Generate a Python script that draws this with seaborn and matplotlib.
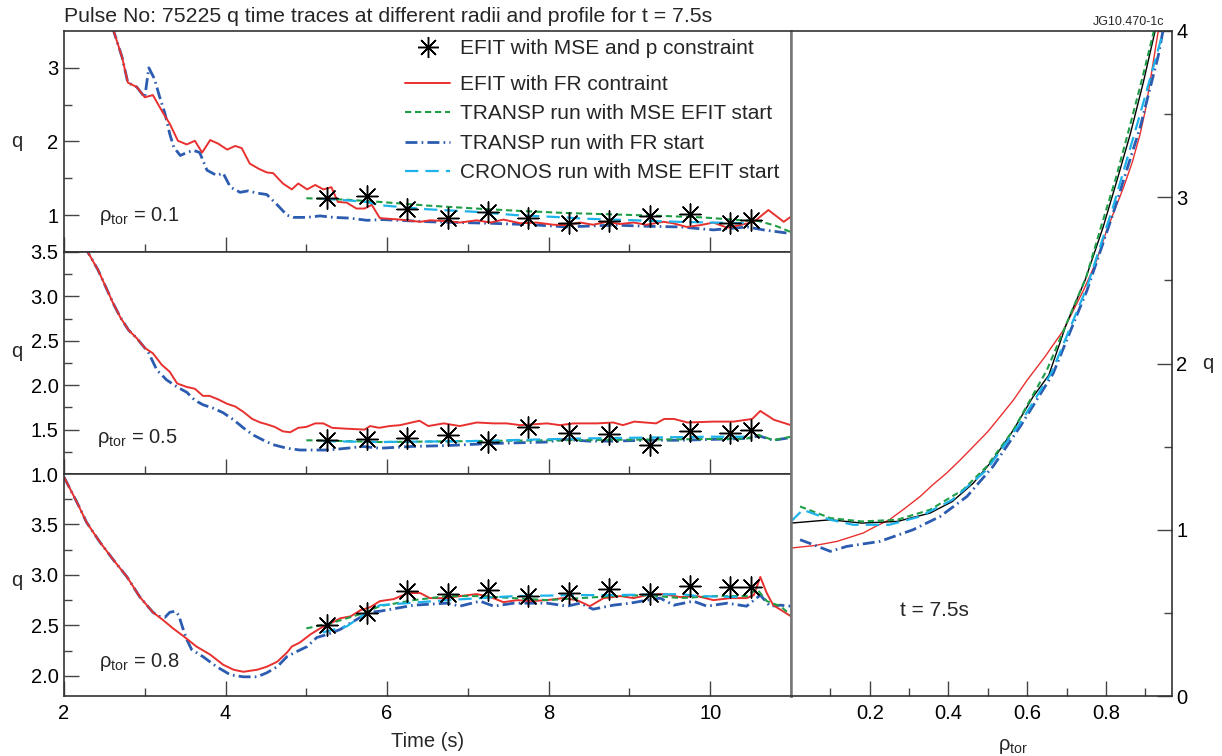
import numpy as np
import pandas as pd
import matplotlib
matplotlib.use("Agg")
import matplotlib.pyplot as plt
from matplotlib.lines import Line2D
from matplotlib.ticker import FixedLocator, NullFormatter
import seaborn as sns

# ---------------- data ----------------
# EFIT MSE star times (all three radii)
t_star = [5.25, 5.75, 6.25, 6.75, 7.25, 7.75, 8.25, 8.75, 9.25, 9.75, 10.25, 10.5]
q_star_01 = [1.23, 1.26, 1.09, 0.96, 1.04, 0.96, 0.89, 0.92, 0.99, 1.01, 0.89, 0.93]
q_star_05 = [1.38, 1.39, 1.40, 1.44, 1.36, 1.53, 1.46, 1.45, 1.33, 1.48, 1.46, 1.50]
q_star_08 = [2.50, 2.62, 2.84, 2.81, 2.85, 2.79, 2.82, 2.86, 2.81, 2.89, 2.88, 2.88]

# rho = 0.1
t_red_01 = [2.60, 2.72, 2.79, 2.90, 3.00, 3.10, 3.23, 3.31, 3.41, 3.52, 3.62, 3.71, 3.81, 3.91,
            4.02, 4.12, 4.20, 4.30, 4.41, 4.51, 4.59, 4.71, 4.82, 4.90, 5.01, 5.11, 5.21, 5.31,
            5.39, 5.50, 5.62, 5.72, 5.81, 5.91, 6.16, 6.41, 6.53, 6.74, 6.90, 7.11, 7.28, 7.44,
            7.65, 7.85, 8.06, 8.22, 8.39, 8.55, 8.72, 8.88, 9.05, 9.21, 9.42, 9.54, 9.71, 9.88,
            10.04, 10.21, 10.37, 10.54, 10.72, 10.91, 11.0]
q_red_01 = [3.55, 3.14, 2.80, 2.74, 2.60, 2.63, 2.38, 2.24, 2.01, 1.96, 2.01, 1.85, 2.02, 1.97,
            1.89, 1.94, 1.91, 1.70, 1.63, 1.58, 1.57, 1.43, 1.35, 1.43, 1.35, 1.41, 1.35, 1.38,
            1.18, 1.17, 1.09, 1.09, 1.14, 0.96, 0.94, 0.91, 0.93, 0.92, 0.90, 0.93, 0.90, 0.94,
            0.89, 0.90, 0.87, 0.865, 0.90, 0.87, 0.91, 0.88, 0.90, 0.87, 0.91, 0.89, 0.84, 0.865,
            0.90, 0.83, 0.865, 0.91, 1.07, 0.91, 0.98]
t_blue_01 = [2.60, 2.72, 2.79, 2.90, 3.00, 3.05, 3.12, 3.18, 3.25, 3.31, 3.36, 3.44, 3.52, 3.60,
             3.68, 3.77, 3.89, 3.97, 4.06, 4.18, 4.28, 4.39, 4.51, 4.64, 4.76, 4.84, 5.01, 5.17,
             5.33, 5.54, 5.75, 5.95, 6.53, 7.28, 7.80, 8.22, 8.80, 9.20, 9.63, 10.04, 10.46,
             10.66, 11.0]
q_blue_01 = [3.55, 3.14, 2.80, 2.74, 2.60, 3.00, 2.85, 2.62, 2.38, 2.10, 1.92, 1.81, 1.85, 1.88,
             1.85, 1.61, 1.54, 1.57, 1.38, 1.31, 1.33, 1.30, 1.28, 1.14, 1.00, 0.97, 0.97, 0.99,
             0.97, 0.96, 0.93, 0.94, 0.91, 0.89, 0.87, 0.84, 0.865, 0.85, 0.84, 0.80, 0.84,
             0.80, 0.75]
t_green_01 = [5.00, 5.50, 5.91, 6.50, 7.10, 7.60, 8.20, 8.80, 9.40, 9.90, 10.40, 10.60, 10.80, 11.0]
q_green_01 = [1.23, 1.21, 1.18, 1.13, 1.09, 1.06, 1.03, 1.01, 0.99, 0.97, 0.93, 0.92, 0.86, 0.77]
t_cyan_01 = [5.20, 5.40, 5.75, 5.91, 6.50, 7.10, 7.60, 8.00, 8.50, 8.80, 9.60, 10.00, 10.50]
q_cyan_01 = [1.22, 1.21, 1.18, 1.135, 1.08, 1.045, 1.00, 0.98, 0.95, 0.94, 0.91, 0.90, 0.89]

# rho = 0.5
t_red_05 = [2.25, 2.30, 2.42, 2.52, 2.61, 2.70, 2.80, 2.90, 3.00, 3.10, 3.21, 3.31, 3.40, 3.52,
            3.62, 3.72, 3.80, 3.91, 4.02, 4.12, 4.22, 4.33, 4.43, 4.51, 4.61, 4.71, 4.80, 4.90,
            5.00, 5.11, 5.21, 5.32, 5.50, 5.72, 5.79, 5.90, 6.03, 6.16, 6.40, 6.51, 6.70, 6.90,
            7.11, 7.32, 7.48, 7.65, 7.98, 8.14, 8.31, 8.60, 8.80, 8.92, 9.06, 9.33, 9.43, 9.55,
            9.72, 10.04, 10.29, 10.52, 10.62, 10.79, 11.0]
q_red_05 = [3.58, 3.49, 3.30, 3.10, 2.92, 2.76, 2.62, 2.53, 2.42, 2.36, 2.23, 2.15, 2.02, 1.98,
            1.96, 1.88, 1.88, 1.84, 1.79, 1.76, 1.70, 1.62, 1.58, 1.56, 1.53, 1.48, 1.47, 1.52,
            1.53, 1.57, 1.57, 1.52, 1.51, 1.50, 1.54, 1.52, 1.54, 1.55, 1.60, 1.54, 1.57, 1.54,
            1.58, 1.57, 1.57, 1.55, 1.57, 1.55, 1.57, 1.57, 1.58, 1.55, 1.59, 1.57, 1.62, 1.62,
            1.58, 1.59, 1.59, 1.62, 1.71, 1.61, 1.55]
t_blue_05 = [2.25, 2.30, 2.42, 2.52, 2.61, 2.70, 2.80, 2.90, 3.00, 3.05, 3.15, 3.27, 3.40, 3.52,
             3.62, 3.72, 3.85, 3.97, 4.10, 4.22, 4.34, 4.47, 4.59, 4.76, 4.92, 5.10, 5.27, 5.50,
             5.70, 5.91, 6.30, 6.74, 7.20, 7.56, 7.98, 8.19, 8.50, 8.80, 9.20, 9.63, 10.04,
             10.46, 10.60, 10.78, 11.0]
q_blue_05 = [3.58, 3.49, 3.30, 3.10, 2.92, 2.76, 2.62, 2.53, 2.42, 2.36, 2.17, 2.06, 1.98, 1.92,
             1.83, 1.78, 1.74, 1.69, 1.61, 1.52, 1.44, 1.38, 1.33, 1.29, 1.27, 1.27, 1.27, 1.29,
             1.31, 1.29, 1.31, 1.32, 1.34, 1.35, 1.36, 1.39, 1.37, 1.37, 1.38, 1.38, 1.39,
             1.40, 1.43, 1.38, 1.41]
t_green_05 = [5.00, 5.50, 5.91, 7.00, 8.00, 9.60, 10.46, 10.60, 10.78, 11.0]
q_green_05 = [1.38, 1.37, 1.36, 1.37, 1.38, 1.39, 1.40, 1.44, 1.38, 1.42]
t_cyan_05 = [5.20, 5.91, 7.00, 8.40, 10.00, 10.50]
q_cyan_05 = [1.37, 1.36, 1.37, 1.40, 1.42, 1.42]

# rho = 0.8
t_red_08 = [2.00, 2.16, 2.28, 2.44, 2.61, 2.78, 2.94, 3.10, 3.23, 3.35, 3.50, 3.64, 3.81, 3.97,
            4.10, 4.22, 4.39, 4.51, 4.64, 4.76, 4.82, 4.92, 5.05, 5.17, 5.30, 5.42, 5.55, 5.67,
            5.79, 5.91, 6.08, 6.26, 6.41, 6.53, 6.74, 6.90, 7.11, 7.28, 7.44, 7.61, 7.77, 7.98,
            8.18, 8.35, 8.51, 8.68, 8.89, 9.05, 9.22, 9.42, 9.63, 9.84, 10.04, 10.25, 10.45,
            10.54, 10.62, 10.70, 10.78, 11.0]
q_red_08 = [3.97, 3.72, 3.52, 3.33, 3.15, 2.98, 2.78, 2.63, 2.55, 2.47, 2.38, 2.29, 2.21, 2.11,
            2.06, 2.04, 2.06, 2.09, 2.14, 2.23, 2.29, 2.33, 2.41, 2.47, 2.52, 2.57, 2.59, 2.65,
            2.68, 2.74, 2.76, 2.82, 2.82, 2.77, 2.77, 2.79, 2.81, 2.78, 2.73, 2.75, 2.74, 2.75,
            2.77, 2.75, 2.69, 2.77, 2.79, 2.77, 2.80, 2.81, 2.78, 2.79, 2.75, 2.77, 2.77,
            2.80, 2.98, 2.82, 2.70, 2.59]
t_blue_08 = [2.00, 2.16, 2.28, 2.44, 2.61, 2.78, 2.94, 3.10, 3.17, 3.25, 3.31, 3.38, 3.42, 3.48,
             3.52, 3.58, 3.72, 3.89, 4.06, 4.22, 4.39, 4.51, 4.64, 4.76, 4.88, 5.01, 5.13, 5.26,
             5.42, 5.54, 5.67, 5.79, 5.91, 6.33, 6.74, 6.90, 7.15, 7.32, 7.57, 7.98, 8.23, 8.39,
             8.55, 8.80, 9.01, 9.22, 9.38, 9.55, 9.79, 9.96, 10.21, 10.45, 10.62, 10.74, 10.87,
             11.0]
q_blue_08 = [3.97, 3.72, 3.52, 3.33, 3.15, 2.98, 2.78, 2.63, 2.59, 2.58, 2.63, 2.64, 2.60, 2.45,
             2.36, 2.26, 2.19, 2.09, 2.01, 1.99, 1.99, 2.03, 2.09, 2.19, 2.24, 2.29, 2.38, 2.41,
             2.46, 2.52, 2.58, 2.63, 2.64, 2.70, 2.72, 2.69, 2.74, 2.69, 2.72, 2.72, 2.69, 2.72,
             2.66, 2.70, 2.72, 2.75, 2.77, 2.70, 2.74, 2.69, 2.72, 2.69, 2.80, 2.69, 2.70,
             2.69]
t_green_08 = [5.00, 5.30, 5.70, 5.91, 6.33, 6.74, 7.15, 7.57, 7.98, 8.39, 8.80, 9.22, 9.63, 10.04,
              10.45, 10.58, 10.70, 10.87, 11.0]
q_green_08 = [2.47, 2.52, 2.62, 2.69, 2.75, 2.79, 2.79, 2.77, 2.75, 2.77, 2.79, 2.80, 2.77, 2.79,
              2.79, 2.86, 2.74, 2.69, 2.60]
t_cyan_08 = [5.20, 5.50, 5.70, 5.91, 6.74, 7.57, 8.39, 8.80, 9.63, 9.85, 10.40]
q_cyan_08 = [2.43, 2.49, 2.60, 2.70, 2.75, 2.79, 2.80, 2.80, 2.81, 2.79, 2.78]

# q profile at t = 7.5 s
rho_black = [0.0, 0.10, 0.18, 0.27, 0.353, 0.41, 0.463, 0.513, 0.565, 0.615, 0.655, 0.70, 0.747,
             0.793, 0.828, 0.862, 0.895, 0.925]
q_black = [1.04, 1.06, 1.04, 1.05, 1.10, 1.17, 1.28, 1.42, 1.60, 1.80, 1.93, 2.24, 2.50, 2.82,
           3.10, 3.38, 3.69, 4.0]
rho_red = [0.0, 0.06, 0.117, 0.15, 0.183, 0.215, 0.25, 0.29, 0.328, 0.36, 0.395, 0.43, 0.463,
           0.50, 0.531, 0.565, 0.60, 0.645, 0.692, 0.743, 0.775, 0.802, 0.845, 0.867, 0.887,
           0.90, 0.912, 0.933]
q_red = [0.89, 0.905, 0.93, 0.955, 0.98, 1.02, 1.06, 1.13, 1.20, 1.27, 1.34, 1.42, 1.50,
         1.59, 1.68, 1.78, 1.90, 2.04, 2.20, 2.44, 2.61, 2.80, 3.06, 3.21, 3.38, 3.52, 3.69, 4.0]
rho_green = [0.023, 0.10, 0.18, 0.27, 0.353, 0.437, 0.497, 0.565, 0.65, 0.70, 0.75, 0.79, 0.826,
             0.86, 0.893, 0.922]
q_green = [1.14, 1.07, 1.05, 1.06, 1.12, 1.24, 1.38, 1.60, 1.96, 2.24, 2.52, 2.84, 3.12, 3.42,
           3.72, 4.0]
rho_cyan = [0.0, 0.03, 0.10, 0.158, 0.25, 0.328, 0.41, 0.497, 0.582, 0.663, 0.752, 0.818, 0.887,
            0.946]
q_cyan = [1.05, 1.12, 1.06, 1.03, 1.03, 1.08, 1.18, 1.36, 1.64, 1.95, 2.46, 2.94, 3.50, 4.0]
rho_blue = [0.023, 0.057, 0.10, 0.142, 0.226, 0.31, 0.379, 0.447, 0.513, 0.582, 0.666, 0.752,
            0.818, 0.887, 0.933, 0.945]
q_blue = [0.94, 0.91, 0.87, 0.90, 0.93, 1.00, 1.08, 1.20, 1.38, 1.62, 1.94, 2.44, 2.90, 3.42,
          3.85, 4.0]

legend_labels = ["EFIT with MSE and p constraint", "EFIT with FR contraint",
                 "TRANSP run with MSE EFIT start", "TRANSP run with FR start",
                 "CRONOS run with MSE EFIT start"]

# ---------------- style ----------------
sns.set_theme(style="ticks")
plt.rcParams["font.family"] = ["Liberation Sans", "DejaVu Sans"]
plt.rcParams["mathtext.fontset"] = "custom"
plt.rcParams["mathtext.rm"] = "Liberation Sans"
plt.rcParams["axes.linewidth"] = 1.2

RED = "#e8312f"
GREEN = "#1f9e48"
BLUE = "#2c5cb0"
CYAN = "#1db3ea"
SPINE = "#333333"

STY = {
    "red": dict(color=RED, lw=1.4, ls="-"),
    "green": dict(color=GREEN, lw=1.5, ls=(0, (3.0, 1.8))),
    "blue": dict(color=BLUE, lw=2.0, ls=(0, (4.3, 1.5, 0.6, 1.5))),
    "cyan": dict(color=CYAN, lw=1.6, ls=(0, (6.0, 3.2))),
    "black": dict(color="black", lw=1.0, ls="-"),
}
STAR = (8, 2, 0)

fig = plt.figure(figsize=(12.22, 7.56), dpi=100)
W, H = 1222.0, 756.0
xl, xr = 64, 791
ax1 = fig.add_axes([xl / W, 1 - 252 / H, (xr - xl) / W, 221 / H])
ax2 = fig.add_axes([xl / W, 1 - 474 / H, (xr - xl) / W, 222 / H])
ax3 = fig.add_axes([xl / W, 1 - 696 / H, (xr - xl) / W, 222 / H])
ax4 = fig.add_axes([xr / W, 1 - 696 / H, (1172 - xr) / W, 665 / H])


def draw(ax, x, y, key, lw=None):
    st = dict(STY[key])
    if lw is not None:
        st["lw"] = lw
    df = pd.DataFrame({"x": x, "y": y})
    sns.lineplot(data=df, x="x", y="y", ax=ax, color=st["color"], linewidth=st["lw"],
                 linestyle=st["ls"], estimator=None, sort=False, legend=False)


def stars(ax, y):
    df = pd.DataFrame({"x": t_star, "y": y})
    sns.scatterplot(data=df, x="x", y="y", ax=ax, marker=STAR, s=230, color="black",
                    linewidth=1.05, legend=False, zorder=5)


panels = [
    (ax1, t_red_01, q_red_01, t_green_01, q_green_01, t_blue_01, q_blue_01, t_cyan_01, q_cyan_01, q_star_01),
    (ax2, t_red_05, q_red_05, t_green_05, q_green_05, t_blue_05, q_blue_05, t_cyan_05, q_cyan_05, q_star_05),
    (ax3, t_red_08, q_red_08, t_green_08, q_green_08, t_blue_08, q_blue_08, t_cyan_08, q_cyan_08, q_star_08),
]
for ax, tr, qr, tg, qg, tb, qb, tc, qc, qs in panels:
    draw(ax, tb, qb, "blue")
    draw(ax, tr, qr, "red")
    draw(ax, tg, qg, "green")
    draw(ax, tc, qc, "cyan")
    stars(ax, qs)

# right panel profile
draw(ax4, rho_red, q_red, "red", lw=1.0)
draw(ax4, rho_black, q_black, "black")
draw(ax4, rho_blue, q_blue, "blue")
draw(ax4, rho_green, q_green, "green")
draw(ax4, rho_cyan, q_cyan, "cyan")

TICKFS = 14.5


def style_ax(ax):
    for s in ax.spines.values():
        s.set_color(SPINE)
        s.set_linewidth(1.2)
    ax.tick_params(which="both", direction="in", colors="#444444", labelcolor="black",
                   labelsize=TICKFS, width=1.0)
    ax.tick_params(which="major", length=10.5)
    ax.tick_params(which="minor", length=5.5)
    ax.set_xlabel("")
    ax.set_ylabel("")


for ax in (ax1, ax2, ax3):
    style_ax(ax)
    ax.set_xlim(2, 11)
    ax.xaxis.set_major_locator(FixedLocator([2, 4, 6, 8, 10]))
    ax.xaxis.set_minor_locator(FixedLocator([3, 5, 7, 9]))
    ax.tick_params(axis="x", which="both", top=False, bottom=True, pad=6)
    ax.tick_params(axis="y", which="both", left=True, right=False, pad=4)
    ax.spines["right"].set_color("#777777")
    ax.spines["right"].set_linewidth(1.8)

ax1.set_ylim(0.5, 3.5)
ax1.yaxis.set_major_locator(FixedLocator([1, 2, 3]))
ax1.yaxis.set_minor_locator(FixedLocator([1.5, 2.5]))
ax1.set_yticklabels(["1", "2", "3"])
ax2.set_ylim(1.0, 3.5)
ax2.yaxis.set_major_locator(FixedLocator([1.0, 1.5, 2.0, 2.5, 3.0, 3.5]))
ax2.yaxis.set_minor_locator(FixedLocator([1.25, 1.75, 2.25, 2.75, 3.25]))
ax2.set_yticklabels(["1.0", "1.5", "2.0", "2.5", "3.0", "3.5"])
ax3.set_ylim(1.8, 4.0)
ax3.yaxis.set_major_locator(FixedLocator([2.0, 2.5, 3.0, 3.5]))
ax3.yaxis.set_minor_locator(FixedLocator([2.25, 2.75, 3.25, 3.75]))
ax3.set_yticklabels(["2.0", "2.5", "3.0", "3.5"])
for ax in (ax1, ax2):
    ax.xaxis.set_major_formatter(NullFormatter())
ax3.set_xticklabels(["2", "4", "6", "8", "10"])
ax3.set_xlabel("Time (s)", fontsize=14.5, labelpad=6)

for ax, ypos in ((ax1, 0.50), (ax2, 0.55), (ax3, 0.52)):
    ax.set_ylabel("q", fontsize=14.5, rotation=0, va="center", ha="center")
    ax.yaxis.set_label_coords(-0.065, ypos)

# rho labels
ax1.text(0.048, 0.165, r"$\mathregular{ρ_{tor}}$ = 0.1", transform=ax1.transAxes,
         fontsize=14.5, va="center", ha="left")
ax2.text(0.045, 0.162, r"$\mathregular{ρ_{tor}}$ = 0.5", transform=ax2.transAxes,
         fontsize=14.5, va="center", ha="left")
ax3.text(0.048, 0.155, r"$\mathregular{ρ_{tor}}$ = 0.8", transform=ax3.transAxes,
         fontsize=14.5, va="center", ha="left")

# right axis styling
style_ax(ax4)
ax4.set_xlim(0.0, 0.968)
ax4.set_ylim(0, 4)
ax4.xaxis.set_major_locator(FixedLocator([0.2, 0.4, 0.6, 0.8]))
ax4.xaxis.set_minor_locator(FixedLocator([0.1, 0.3, 0.5, 0.7, 0.9]))
ax4.set_xticklabels(["0.2", "0.4", "0.6", "0.8"])
ax4.yaxis.set_major_locator(FixedLocator([0, 1, 2, 3, 4]))
ax4.yaxis.set_minor_locator(FixedLocator([0.5, 1.5, 2.5, 3.5]))
ax4.set_yticklabels(["0", "1", "2", "3", "4"])
ax4.yaxis.tick_right()
ax4.tick_params(axis="y", which="both", left=False, right=True, labelleft=False,
                labelright=True, pad=3)
ax4.tick_params(axis="x", which="both", top=False, bottom=True, pad=6)
ax4.spines["left"].set_color("#777777")
ax4.spines["left"].set_linewidth(1.8)
ax4.yaxis.set_label_position("right")
ax4.set_ylabel("q", fontsize=14.5, rotation=0, va="center", ha="center")
ax4.yaxis.set_label_coords(1.094, 0.5)
ax4.text(0.286, 0.129, "t = 7.5s", transform=ax4.transAxes, fontsize=15,
         va="center", ha="left")
fig.text(1013 / W, 1 - 746 / H, r"$\mathregular{ρ_{tor}}$", fontsize=14.5,
         ha="center", va="center")

# title and id
fig.text(64 / W, 1 - 16 / H, "Pulse No: 75225 q time traces at different radii and profile for t = 7.5s",
         fontsize=15.3, ha="left", va="center")
fig.text(1164 / W, 1 - 22 / H, "JG10.470-1c", fontsize=9, ha="right", va="center")

# legend
h_star = Line2D([], [], ls="none", marker=STAR, markersize=15, markeredgewidth=1.05,
                color="black")
h_lines = [Line2D([], [], color=STY[k]["color"], lw=STY[k]["lw"], ls=STY[k]["ls"])
           for k in ("red", "green", "blue", "cyan")]
leg1 = ax1.legend([h_star], legend_labels[:1], loc="upper left",
                  bbox_to_anchor=(405 / W, 1 - 39 / H), bbox_transform=fig.transFigure,
                  frameon=False, fontsize=15, handlelength=2.16, handletextpad=0.48,
                  borderpad=0, borderaxespad=0)
ax1.add_artist(leg1)
ax1.legend(h_lines, legend_labels[1:], loc="upper left",
           bbox_to_anchor=(405 / W, 1 - 75 / H), bbox_transform=fig.transFigure,
           frameon=False, fontsize=15, handlelength=2.16, handletextpad=0.48,
           borderpad=0, borderaxespad=0, labelspacing=0.5)

fig.savefig("out.png", dpi=100)
